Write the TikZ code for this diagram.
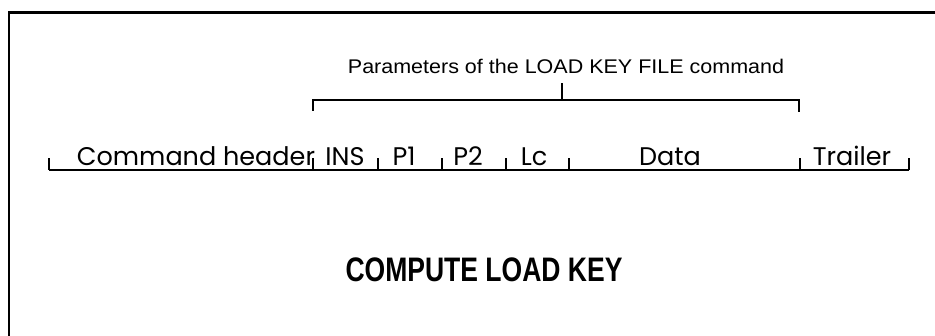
\documentclass[tikz,border=0pt]{standalone}
\usepackage{fontspec}
\setmainfont{Liberation Sans}
\newfontfamily\rowfont{Poppins}
\begin{document}
\begin{tikzpicture}[x=1pt,y=-1pt,
  frameline/.style={line width=2.6pt,line cap=rect},
  braceline/.style={line width=2.4pt},
  rowline/.style={line width=2pt},
  rowlabel/.style={font=\rowfont\fontsize{25.5}{25.5}\selectfont,anchor=base,inner sep=0pt},
  toplabel/.style={font=\fontsize{21.5}{21.5}\selectfont,inner sep=0pt},
  titlelabel/.style={font=\bfseries\fontsize{34}{34}\selectfont,inner sep=0pt}]
\useasboundingbox (0,0) rectangle (935,336);
\clip (0,0) rectangle (935,336);
\fill[white] (0,0) rectangle (935,336);
% frame (clipped at right and bottom)
\coordinate (fbl) at (9,345);
\coordinate (ftl) at (9,12.5);
\coordinate (ftr) at (945,12.5);
\draw[frameline] (fbl) -- (ftl) -- (ftr);
% top label and brace
\node[toplabel] (params) at (566,66) {\scalebox{1.0}[0.92]{Parameters of the LOAD KEY FILE command}};
\coordinate (bl) at (313,111);
\coordinate (blt) at (313,100);
\coordinate (brt) at (799,100);
\coordinate (br) at (799,112);
\coordinate (bm) at (562,100);
\coordinate (bmt) at (562,83);
\draw[braceline] (bl) -- (blt) -- (brt) -- (br);
\draw[braceline] (bm) -- (bmt);
% row line with ticks
\foreach \n/\x in {0/49,1/313,2/378,3/442,4/506,5/569,6/800,7/909}{
  \coordinate (t\n) at (\x,170);
  \coordinate (u\n) at (\x,158);
}
\draw[rowline] (t0) -- (t7);
\foreach \n in {0,...,7}{\draw[rowline] (t\n) -- (u\n);}
% row labels
\node[rowlabel] (cmdhdr) at (196,166) {Command header};
\node[rowlabel] (ins) at (345,166) {INS};
\node[rowlabel] (pone) at (404,166) {P1};
\node[rowlabel] (ptwo) at (468,166) {P2};
\node[rowlabel] (lc) at (534,166) {Lc};
\node[rowlabel] (data) at (670,166) {Data};
\node[rowlabel] (trailer) at (852,166) {Trailer};
% title
\node[titlelabel] (title) at (484,270) {\scalebox{0.78}[1]{COMPUTE LOAD KEY}};
\end{tikzpicture}
\end{document}
